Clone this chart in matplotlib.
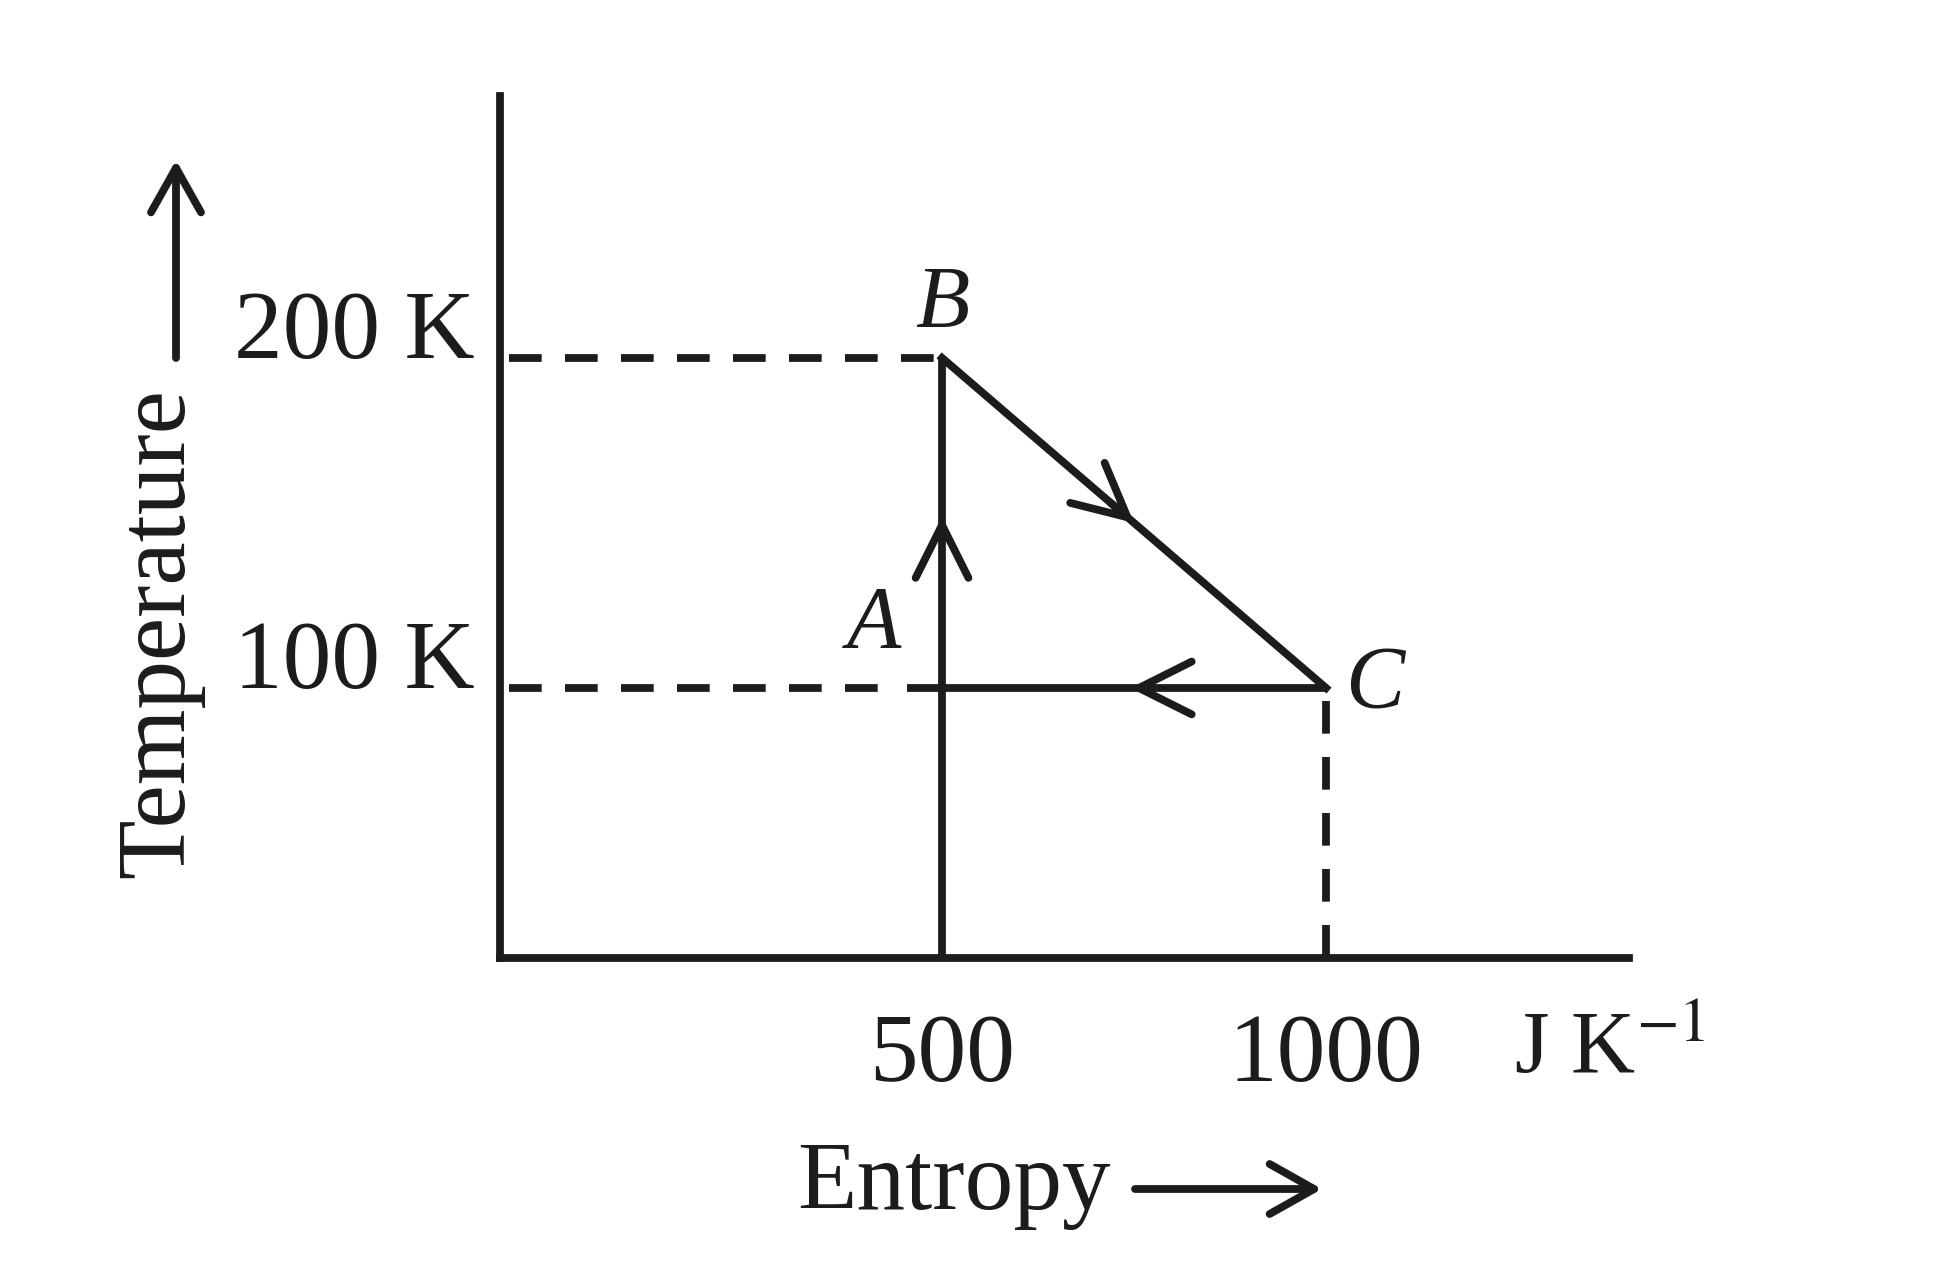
import matplotlib
matplotlib.use("Agg")
import matplotlib.pyplot as plt

# -------------------------
# Data: T-S cycle A -> B -> C -> A
# -------------------------
states = ["A", "B", "C"]
entropy = [500, 500, 1000]        # J K^-1
temperature = [100, 200, 100]     # K

x_ticks = [500, 1000]
x_tick_labels = ["500", "1000"]
y_ticks = [100, 200]
y_tick_labels = ["100 K", "200 K"]

plt.rcParams["font.family"] = ["Liberation Serif", "DejaVu Serif"]
plt.rcParams["mathtext.fontset"] = "stix"

INK = "#1c1c1c"
LW = 5.6
DASH = (0, (4.2, 3.0))


def mid_arrow(ax, p, q, frac=0.5):
    """open chevron on segment p->q, pointing towards q"""
    tip = (p[0] + frac * (q[0] - p[0]), p[1] + frac * (q[1] - p[1]))
    tail = (p[0] + (frac - 0.06) * (q[0] - p[0]), p[1] + (frac - 0.06) * (q[1] - p[1]))
    ax.annotate("", xy=tip, xytext=tail,
                arrowprops=dict(arrowstyle="->,head_length=1.9,head_width=0.95",
                                lw=LW, color=INK, shrinkA=0, shrinkB=0,
                                mutation_scale=20))


fig = plt.figure(figsize=(19.38, 12.66), dpi=100)
ax = fig.add_axes([0.258, 0.2433, 0.5826, 0.681])
ax.set_xlim(-75.5, 1394.5)
ax.set_ylim(18.2, 279.4)

for side in ["top", "right"]:
    ax.spines[side].set_visible(False)
for side in ["left", "bottom"]:
    ax.spines[side].set_linewidth(LW)
    ax.spines[side].set_color(INK)

ax.set_xticks(x_ticks)
ax.set_xticklabels(x_tick_labels, fontsize=70, color=INK)
ax.set_yticks(y_ticks)
ax.set_yticklabels(y_tick_labels, fontsize=70, color=INK, va="baseline")
ax.tick_params(axis="x", length=0, pad=40)
ax.tick_params(axis="y", length=0, pad=18)

x0 = ax.get_xlim()[0]
y0 = ax.get_ylim()[0]
sA, sB, sC = entropy
tA, tB, tC = temperature
overshoot = 45  # CA line runs a little past A

# solid cycle lines
ax.plot([sA, sB], [y0, tB], color=INK, lw=LW, solid_capstyle="butt")
ax.plot([sB, sC], [tB, tC], color=INK, lw=LW, solid_capstyle="projecting")
ax.plot([sC, sA - overshoot], [tC, tA], color=INK, lw=LW, solid_capstyle="butt")

# dashed guides
ax.plot([x0 + 12, sB], [tB, tB], color=INK, lw=LW, linestyle=DASH)
ax.plot([x0 + 12, sA - overshoot - 20], [tA, tA], color=INK, lw=LW, linestyle=DASH)
ax.plot([sC, sC], [tC - 4, y0], color=INK, lw=LW, linestyle=DASH)

# direction arrows
mid_arrow(ax, (sA, tA), (sB, tB), 0.52)
mid_arrow(ax, (sB, tB), (sC, tC), 0.50)
mid_arrow(ax, (sC, tC), (sA, tA), 0.51)

# state labels
label_offsets = {"A": (-49, 45), "B": (0, 38), "C": (35, 2)}
for name, s, t in zip(states, entropy, temperature):
    ax.annotate(name, (s, t), xytext=label_offsets[name], textcoords="offset points",
                ha="center", va="center", fontsize=64, style="italic", color=INK)

# units and axis titles
fig.text(1514 / 1938, 1 - 1073 / 1266, "J K$^{-1}$", fontsize=64, color=INK,
         ha="left", va="baseline")
fig.text(797 / 1938, 1 - 1209 / 1266, "Entropy", fontsize=70, color=INK,
         ha="left", va="baseline")
fig.text(160 / 1938, 1 - 878 / 1266, "Temperature", fontsize=70, color=INK,
         rotation=90, ha="center", va="bottom")

arrow_kw = dict(arrowstyle="->,head_length=1.6,head_width=0.9", lw=LW, color=INK,
                shrinkA=0, shrinkB=0, mutation_scale=20)
ax.annotate("", xy=(1322 / 1938, 1 - 1189 / 1266), xycoords="figure fraction",
            xytext=(1135 / 1938, 1 - 1189 / 1266), textcoords="figure fraction",
            arrowprops=arrow_kw)
ax.annotate("", xy=(176 / 1938, 1 - 160 / 1266), xycoords="figure fraction",
            xytext=(176 / 1938, 1 - 358 / 1266), textcoords="figure fraction",
            arrowprops=arrow_kw)

fig.savefig("out.png", dpi=100, facecolor="white")
